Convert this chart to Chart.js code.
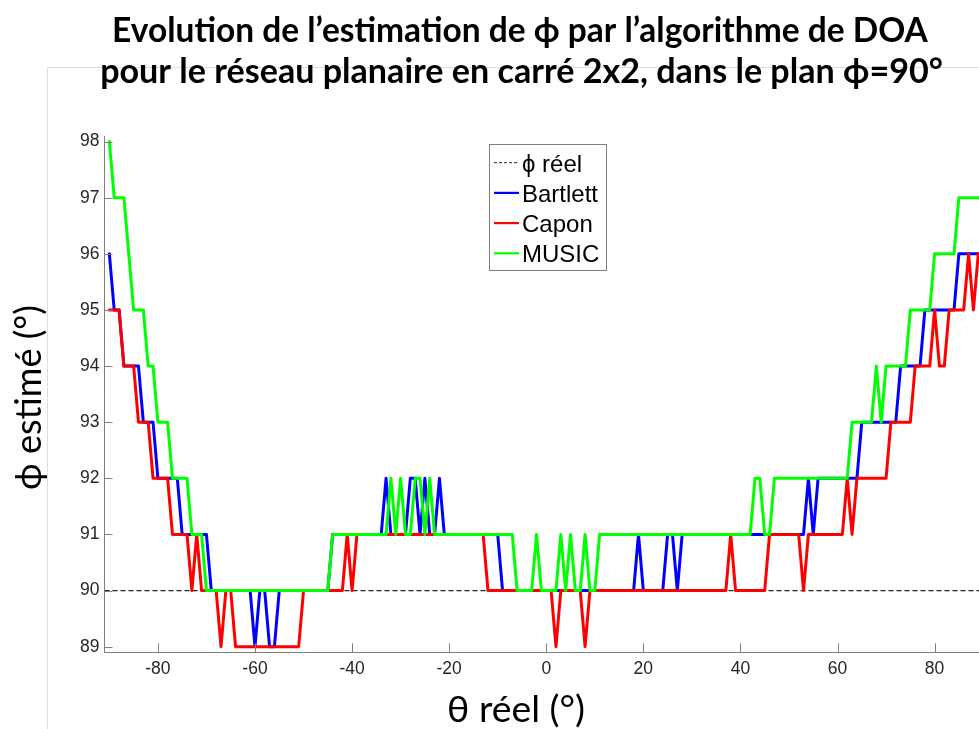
<!DOCTYPE html>
<html>
<head>
<meta charset="utf-8">
<script src="https://cdn.jsdelivr.net/npm/chart.js@4.4.1/dist/chart.umd.min.js"></script>
<style>
  html, body { margin: 0; padding: 0; background: #fff; overflow: hidden; }
  #wrap { position: absolute; left: 0; top: 0; width: 1000px; height: 729px; }
</style>
</head>
<body>
<div id="wrap"><canvas id="canvasChart"></canvas></div>
<script>
// theta reel (deg), one sample per degree
const thetaReel = [];
for (let t = -90; t <= 90; t++) thetaReel.push(t);

// phi reel : reference line across the whole axis
const phiReelTheta = [-91, 91];
const phiReel = [90, 90];

// estimated phi (deg), rows of 10 starting at theta = -90
const bartlett = [
  96, 95, 95, 94, 94, 94, 94, 93, 93, 93,
  92, 92, 92, 92, 92, 91, 91, 91, 91, 91,
  91, 90, 90, 90, 90, 90, 90, 90, 90, 90,
  89, 90, 90, 89, 89, 90, 90, 90, 90, 90,
  90, 90, 90, 90, 90, 90, 91, 91, 91, 91,
  91, 91, 91, 91, 91, 91, 91, 92, 91, 91,
  91, 91, 92, 92, 91, 92, 91, 91, 92, 91,
  91, 91, 91, 91, 91, 91, 91, 91, 91, 91,
  91, 90, 90, 90, 90, 90, 90, 90, 90, 90,
  90, 90, 90, 90, 90, 90, 90, 90, 90, 90,
  90, 90, 90, 90, 90, 90, 90, 90, 90, 91,
  90, 90, 90, 90, 90, 91, 91, 90, 91, 91,
  91, 91, 91, 91, 91, 91, 91, 91, 91, 91,
  91, 91, 91, 91, 91, 91, 91, 91, 91, 91,
  91, 91, 91, 91, 92, 91, 92, 92, 92, 92,
  92, 92, 92, 92, 92, 93, 93, 93, 93, 93,
  93, 93, 93, 94, 94, 94, 94, 94, 95, 95,
  95, 95, 95, 95, 95, 96, 96, 96, 96, 96,
  96
];

const capon = [
  95, 95, 95, 94, 94, 94, 93, 93, 93, 92,
  92, 92, 92, 91, 91, 91, 91, 90, 91, 90,
  90, 90, 90, 89, 90, 90, 89, 89, 89, 89,
  89, 89, 89, 89, 89, 89, 89, 89, 89, 89,
  90, 90, 90, 90, 90, 90, 90, 90, 90, 91,
  90, 91, 91, 91, 91, 91, 91, 91, 91, 91,
  91, 91, 91, 91, 91, 91, 91, 91, 91, 91,
  91, 91, 91, 91, 91, 91, 91, 91, 90, 90,
  90, 90, 90, 90, 90, 90, 90, 90, 90, 90,
  90, 90, 89, 90, 90, 90, 90, 90, 89, 90,
  90, 90, 90, 90, 90, 90, 90, 90, 90, 90,
  90, 90, 90, 90, 90, 90, 90, 90, 90, 90,
  90, 90, 90, 90, 90, 90, 90, 90, 91, 90,
  90, 90, 90, 90, 90, 90, 91, 91, 91, 91,
  91, 91, 91, 90, 91, 91, 91, 91, 91, 91,
  91, 91, 92, 91, 92, 92, 92, 92, 92, 92,
  92, 93, 93, 93, 93, 93, 94, 94, 94, 94,
  95, 94, 94, 95, 95, 95, 95, 96, 95, 96,
  96
];

const music = [
  98, 97, 97, 97, 96, 95, 95, 95, 94, 94,
  93, 93, 93, 92, 92, 92, 92, 91, 91, 91,
  90, 90, 90, 90, 90, 90, 90, 90, 90, 90,
  90, 90, 90, 90, 90, 90, 90, 90, 90, 90,
  90, 90, 90, 90, 90, 90, 91, 91, 91, 91,
  91, 91, 91, 91, 91, 91, 91, 91, 92, 91,
  92, 91, 91, 92, 92, 91, 92, 91, 91, 91,
  91, 91, 91, 91, 91, 91, 91, 91, 91, 91,
  91, 91, 91, 91, 90, 90, 90, 90, 91, 90,
  90, 90, 90, 91, 90, 91, 90, 90, 91, 90,
  90, 91, 91, 91, 91, 91, 91, 91, 91, 91,
  91, 91, 91, 91, 91, 91, 91, 91, 91, 91,
  91, 91, 91, 91, 91, 91, 91, 91, 91, 91,
  91, 91, 91, 92, 92, 91, 91, 92, 92, 92,
  92, 92, 92, 92, 92, 92, 92, 92, 92, 92,
  92, 92, 92, 93, 93, 93, 93, 93, 94, 93,
  94, 94, 94, 94, 94, 95, 95, 95, 95, 95,
  96, 96, 96, 96, 96, 97, 97, 97, 97, 97,
  97
];

const xTicks = [-80, -60, -40, -20, 0, 20, 40, 60, 80];
const yTicks = [89, 90, 91, 92, 93, 94, 95, 96, 97, 98];

const titleLines = [
  'Evolution de l\u2019estimation de \u03d5 par l\u2019algorithme de DOA',
  'pour le r\u00e9seau planaire en carr\u00e9 2x2, dans le plan \u03d5=90\u00b0'
];
const xTitle = '\u03b8 r\u00e9el (\u00b0)';
const yTitle = '\u03d5 estim\u00e9 (\u00b0)';

function pts(xs, ys) {
  return xs.map((x, i) => ({ x: x, y: ys[i] }));
}

// font size so that the text spans a given width
function fitFont(ctx, text, weight, family, width) {
  ctx.font = weight + ' 100px ' + family;
  return 100 * width / ctx.measureText(text).width;
}

const AXIS_GREY = '#7f7f7f';
const CALIBRI = 'Lato, "Open Sans", sans-serif';
const ARIAL = '"Liberation Sans", Arial, sans-serif';

const decor = {
  id: 'decor',
  beforeDraw(chart) {
    const c = chart.ctx;
    c.save();
    c.fillStyle = '#fff';
    c.fillRect(0, 0, chart.width, chart.height);
    // faint frame of the pasted picture
    c.strokeStyle = '#dedede';
    c.lineWidth = 1;
    c.beginPath();
    c.moveTo(47.5, chart.height);
    c.lineTo(47.5, 67.5);
    c.lineTo(chart.width, 67.5);
    c.stroke();
    c.restore();
  },
  afterDraw(chart) {
    const c = chart.ctx;
    const area = chart.chartArea;
    const sx = chart.scales.x, sy = chart.scales.y;
    c.save();

    // inward tick marks
    c.strokeStyle = AXIS_GREY;
    c.lineWidth = 1;
    c.beginPath();
    sx.ticks.forEach(t => {
      const px = Math.round(sx.getPixelForValue(t.value)) + 0.5;
      c.moveTo(px, area.bottom);
      c.lineTo(px, area.bottom - 9);
    });
    sy.ticks.forEach(t => {
      const py = Math.round(sy.getPixelForValue(t.value)) + 0.5;
      c.moveTo(area.left, py);
      c.lineTo(area.left + 8, py);
    });
    c.stroke();

    // legend
    const lg = { x: 489.5, y: 144.5, w: 117, h: 126, row0: 162.7, rowH: 30.2 };
    c.fillStyle = '#fff';
    c.fillRect(lg.x, lg.y, lg.w, lg.h);
    c.strokeStyle = AXIS_GREY;
    c.strokeRect(lg.x, lg.y, lg.w, lg.h);
    chart.data.datasets.forEach((ds, i) => {
      const y = lg.row0 + i * lg.rowH;
      c.save();
      c.strokeStyle = ds.borderColor;
      c.lineWidth = ds.borderDash ? 1 : 2.2;
      c.setLineDash(ds.borderDash ? [3, 2] : []);
      c.beginPath();
      c.moveTo(494, y);
      c.lineTo(519, y);
      c.stroke();
      c.restore();
      c.fillStyle = '#000';
      c.font = '24px ' + ARIAL;
      c.textAlign = 'left';
      c.textBaseline = 'alphabetic';
      c.fillText(ds.label, 522, y + 9);
    });

    // titles
    c.fillStyle = '#000';
    c.textAlign = 'center';
    c.textBaseline = 'alphabetic';
    let fs = fitFont(c, titleLines[0], 'bold', CALIBRI, 816);
    c.font = 'bold ' + fs + 'px ' + CALIBRI;
    c.fillText(titleLines[0], 520, 42);
    fs = fitFont(c, titleLines[1], 'bold', CALIBRI, 843);
    c.font = 'bold ' + fs + 'px ' + CALIBRI;
    c.fillText(titleLines[1], 521.5, 83);

    fs = fitFont(c, xTitle, 'normal', CALIBRI, 138);
    c.font = fs + 'px ' + CALIBRI;
    c.fillText(xTitle, 516, 722);

    fs = fitFont(c, yTitle, 'normal', CALIBRI, 185);
    c.font = fs + 'px ' + CALIBRI;
    c.translate(41, 397.5);
    c.rotate(-Math.PI / 2);
    c.fillText(yTitle, 0, 0);
    c.restore();
  }
};

document.addEventListener('DOMContentLoaded', function () {
  const canvas = document.getElementById('canvasChart');
  const ctx = canvas.getContext('2d');

  const tickFont = { family: '"Liberation Sans", Arial, sans-serif', size: 17.5 };

  new Chart(ctx, {
    type: 'line',
    data: {
      datasets: [{
        label: '\u03d5 r\u00e9el',
        data: pts(phiReelTheta, phiReel),
        borderColor: '#222',
        borderWidth: 1.2,
        borderDash: [5, 3],
        pointRadius: 0,
        order: 3,
      }, {
        label: 'Bartlett',
        data: pts(thetaReel, bartlett),
        borderColor: '#0000ff',
        borderWidth: 3,
        borderJoinStyle: 'round',
        borderCapStyle: 'round',
        pointRadius: 0,
        order: 2,
      }, {
        label: 'Capon',
        data: pts(thetaReel, capon),
        borderColor: '#ff0000',
        borderWidth: 3,
        borderJoinStyle: 'round',
        borderCapStyle: 'round',
        pointRadius: 0,
        order: 1,
      }, {
        label: 'MUSIC',
        data: pts(thetaReel, music),
        borderColor: '#00ff00',
        borderWidth: 3,
        borderJoinStyle: 'round',
        borderCapStyle: 'round',
        pointRadius: 0,
        order: 0,
      }]
    },
    options: {
      responsive: true,
      maintainAspectRatio: false,
      animation: false,
      layout: { padding: { top: 136, right: 12, left: 0, bottom: 0 } },
      plugins: {
        legend: { display: false },
        tooltip: { enabled: false },
      },
      scales: {
        x: {
          type: 'linear',
          min: -91,
          max: 91,
          grid: { display: false, drawTicks: false },
          border: { display: true, color: AXIS_GREY, width: 1 },
          ticks: { color: '#262626', font: tickFont, padding: 6, maxRotation: 0 },
          afterBuildTicks: s => { s.ticks = xTicks.map(v => ({ value: v })); },
          afterFit: s => { s.height = 76.7; },
        },
        y: {
          min: 88.9,
          max: 98.1,
          grid: { display: false, drawTicks: false },
          border: { display: true, color: AXIS_GREY, width: 1 },
          ticks: { color: '#262626', font: tickFont, padding: 5 },
          afterBuildTicks: s => { s.ticks = yTicks.map(v => ({ value: v })); },
          afterFit: s => { s.width = 104.5; },
        }
      }
    },
    plugins: [decor]
  });
});
</script>
</body>
</html>
